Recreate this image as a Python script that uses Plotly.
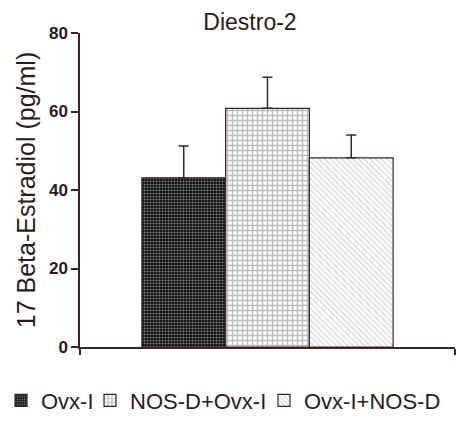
import plotly.graph_objects as go

groups = ["Ovx-I", "NOS-D+Ovx-I", "Ovx-I+NOS-D"]
means = [43.1, 60.8, 48.2]
errors_plus = [8.1, 7.9, 5.8]
category = ["Diestro-2"]
y_ticks = [0, 20, 40, 60, 80]

axis_color = "#3d2424"
text_color = "#2a1a1a"
patterns = [
    dict(shape=".", bgcolor="#0e0e0e", fgcolor="#808080", size=3, solidity=0.4, fillmode="replace"),
    dict(shape="+", bgcolor="#ffffff", fgcolor="#bdbdbd", size=5, solidity=0.5, fillmode="replace"),
    dict(shape="\\", bgcolor="#ffffff", fgcolor="#d8d8d8", size=4, solidity=0.35, fillmode="replace"),
]
legend_widths = [44, 129, 136]

fig = go.Figure()
for name, m, e, p, lw in zip(groups, means, errors_plus, patterns, legend_widths):
    fig.add_trace(go.Bar(
        x=category, y=[m], name=name, legendwidth=lw,
        marker=dict(color=p["bgcolor"], pattern=p, line=dict(color=axis_color, width=1.2)),
        error_y=dict(type="data", array=[e], arrayminus=[0], symmetric=False,
                     color=axis_color, thickness=1.5, width=5),
    ))

fig.update_layout(
    width=456, height=423,
    margin=dict(l=80, r=1, t=33, b=74),
    paper_bgcolor="white", plot_bgcolor="white",
    barmode="group", bargap=0.33, bargroupgap=0,
    font=dict(family="Arial, Liberation Sans, sans-serif", color=text_color),
    title=dict(text="Diestro-2", x=250/456, xanchor="center", xref="container",
               y=1 - 22/423, yanchor="middle", font=dict(size=23, color=text_color)),
    showlegend=True,
    legend=dict(orientation="h", x=-79/375, xanchor="left", xref="paper",
                y=(349-403)/316, yanchor="middle", yref="paper",
                font=dict(size=22, color=text_color),
                itemwidth=30, traceorder="normal", borderwidth=0),
)
fig.update_yaxes(range=[0, 80], tickvals=y_ticks, showgrid=False, zeroline=False,
                 showline=True, linecolor=axis_color, linewidth=1.5,
                 ticks="outside", ticklen=7, tickwidth=1.5, tickcolor=axis_color,
                 tickfont=dict(size=17, weight="bold", color=text_color),
                 title=dict(text="17 Beta-Estradiol (pg/ml)", font=dict(size=25, color=text_color), standoff=6))
fig.update_xaxes(showgrid=False, showline=True, linecolor=axis_color, linewidth=1.5,
                 showticklabels=False, ticks="outside", tickson="boundaries",
                 ticklen=6, tickwidth=1.5, tickcolor=axis_color)

fig.write_html("out.html")
